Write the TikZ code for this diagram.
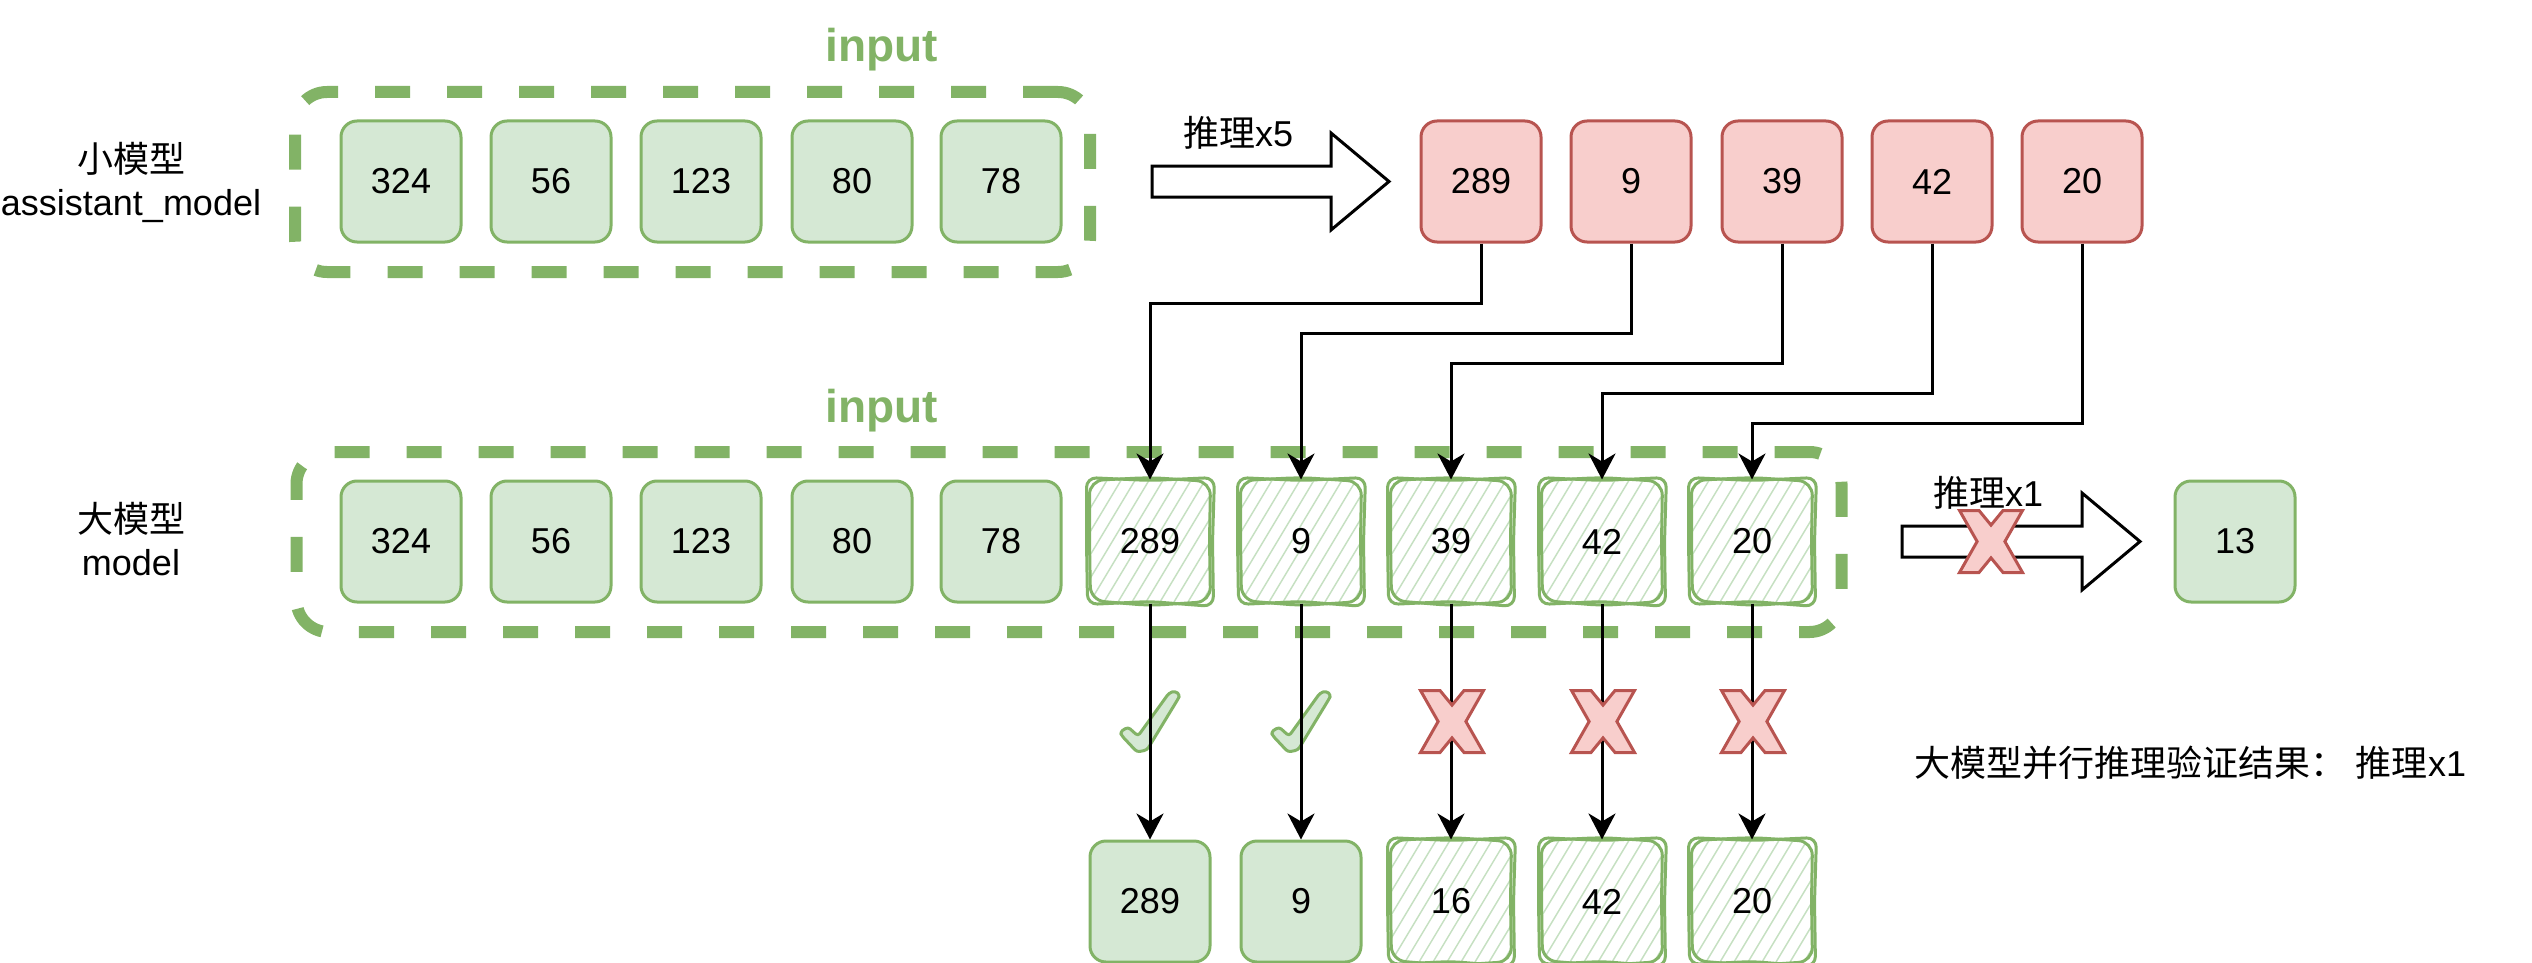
\documentclass[tikz,border=0pt]{standalone}
\usepackage{fontspec}
\setmainfont{Liberation Sans}
\newfontfamily\cjk{Noto Sans CJK SC}
\usetikzlibrary{arrows.meta}
\definecolor{gfill}{HTML}{D5E8D4}
\definecolor{gline}{HTML}{82B366}
\definecolor{rfill}{HTML}{F8CECC}
\definecolor{rline}{HTML}{B85450}
\definecolor{hatchc}{HTML}{C6E0C2}
\newcommand{\skout}[1]{%
\draw[skline,rounded corners=10pt] ([shift={(-2pt,2pt)}]#1.north west) -- ([shift={(0pt,-1pt)}]#1.north) -- ([shift={(3pt,2pt)}]#1.north east) -- ([shift={(1pt,0pt)}]#1.east) -- ([shift={(2pt,-3pt)}]#1.south east) -- ([shift={(0pt,2pt)}]#1.south) -- ([shift={(-1pt,-1pt)}]#1.south west) -- ([shift={(-2pt,0pt)}]#1.west) -- cycle;
\draw[skline,rounded corners=14pt] ([shift={(1pt,-1pt)}]#1.north west) -- ([shift={(0pt,2pt)}]#1.north) -- ([shift={(-1pt,-2pt)}]#1.north east) -- ([shift={(-2pt,0pt)}]#1.east) -- ([shift={(-1pt,2pt)}]#1.south east) -- ([shift={(0pt,-2pt)}]#1.south) -- ([shift={(2pt,3pt)}]#1.south west) -- ([shift={(1pt,0pt)}]#1.west) -- cycle;}
\tikzset{
 tok/.style={rectangle, rounded corners=16pt, minimum width=120pt, minimum height=121pt, inner sep=0pt, line width=3pt, font=\fontsize{36}{43}\selectfont},
 gtok/.style={tok, draw=gline, fill=gfill},
 rtok/.style={tok, draw=rline, fill=rfill},
 sktok/.style={tok, path picture={\foreach \k in {-84,-70,...,126}{\draw[hatchc,line width=1.5pt] ([xshift=\k pt]path picture bounding box.south west) -- ++(75pt,125pt);}}},
 skline/.style={draw=gline, line width=3pt, line join=round, line cap=round},
 cont/.style={rectangle, rounded corners=32pt, draw=gline, line width=12pt, dash pattern=on 35pt off 37pt, inner sep=0pt},
 conn/.style={line width=3pt, -{Stealth[length=26pt,width=27pt,inset=8pt]}},
 blockarrow/.style={draw=black, line width=3pt, fill=white, line join=miter},
 lbl/.style={font=\fontsize{36}{43}\selectfont, inner sep=0pt},
 inlbl/.style={font=\fontsize{46}{50}\selectfont\bfseries, text=gline, inner sep=0pt},
 xmark/.style={draw=rline, fill=rfill, line width=3pt, line join=miter},
 cmark/.style={draw=gline, fill=gfill, line width=3pt, line join=round, rounded corners=3pt},
 xpic/.pic={\draw[xmark] (-31.5,-31) -- (-12,-31) -- (0,-16.4) -- (12,-31) -- (31.5,-31) -- (13.9,0) -- (31.5,31) -- (12,31) -- (0,16.4) -- (-12,31) -- (-31.5,31) -- (-13.9,0) -- cycle;},
 cpic/.pic={\draw[cmark] (-30,10) -- (-22,5) -- (-12,14) -- (19,-29) -- (25,-31) -- (30,-27) -- (28,-23) -- (-3,28) -- (-13,30) -- (-28,14) -- cycle;},
}
\begin{document}
\begin{tikzpicture}[x=1pt,y=-1pt]
\useasboundingbox (0,0) rectangle (2532,963);
% containers
\node[cont, minimum width=795pt, minimum height=180pt] (cont1) at (692.5,182) {};
\node[cont, minimum width=1545pt, minimum height=180pt] (cont2) at (1069,542) {};
\node[inlbl, anchor=base] (in1) at (882,62) {input};
\node[inlbl, anchor=base] (in2) at (882,422) {input};
% left labels
\node[lbl, anchor=base] (l1a) at (131,172) {\cjk 小模型};
\node[lbl, anchor=base] (l1b) at (131,215) {assistant\_model};
\node[lbl, anchor=base] (l2a) at (131,532) {\cjk 大模型};
\node[lbl, anchor=base] (l2b) at (131,575) {model};
% row 1 inputs
\node[gtok] (a1) at (401,181.5) {324};
\node[gtok] (a2) at (551,181.5) {56};
\node[gtok] (a3) at (701,181.5) {123};
\node[gtok] (a4) at (852,181.5) {80};
\node[gtok] (a5) at (1001,181.5) {78};
% row 1 draft
\node[rtok] (r1) at (1481,181.5) {289};
\node[rtok] (r2) at (1631,181.5) {9};
\node[rtok] (r3) at (1782,181.5) {39};
\node[rtok] (r4) at (1932,181.5) {42};
\node[rtok] (r5) at (2082,181.5) {20};
% row 2
\node[gtok] (b1) at (401,541.5) {324};
\node[gtok] (b2) at (551,541.5) {56};
\node[gtok] (b3) at (701,541.5) {123};
\node[gtok] (b4) at (852,541.5) {80};
\node[gtok] (b5) at (1001,541.5) {78};
\node[sktok] (s1) at (1150,541.5) {289};
\node[sktok] (s2) at (1301,541.5) {9};
\node[sktok] (s3) at (1451,541.5) {39};
\node[sktok] (s4) at (1602,541.5) {42};
\node[sktok] (s5) at (1752,541.5) {20};
\skout{s1}\skout{s2}\skout{s3}\skout{s4}\skout{s5}
\node[gtok] (res) at (2235,541.5) {13};
% row 3
\node[gtok] (c1) at (1150,901.5) {289};
\node[gtok] (c2) at (1301,901.5) {9};
\node[sktok] (c3) at (1451,901.5) {16};
\node[sktok] (c4) at (1602,901.5) {42};
\node[sktok] (c5) at (1752,901.5) {20};
\skout{c3}\skout{c4}\skout{c5}
% connectors row1 -> row2
\draw[conn] (r1.south) -- ++(0,59.5) -| (s1.north);
\draw[conn] (r2.south) -- ++(0,89.5) -| (s2.north);
\draw[conn] (r3.south) -- ++(0,119.5) -| (s3.north);
\draw[conn] (r4.south) -- ++(0,149.5) -| (s4.north);
\draw[conn] (r5.south) -- ++(0,179.5) -| (s5.north);
% checks
\pic (ck1) at (1150,722) {cpic};
\pic (ck2) at (1301,722) {cpic};
% connectors row2 -> row3
\draw[conn] (s1.south) -- (c1.north);
\draw[conn] (s2.south) -- (c2.north);
\draw[conn] (s3.south) -- (c3.north);
\draw[conn] (s4.south) -- (c4.north);
\draw[conn] (s5.south) -- (c5.north);
\pic (xm3) at (1452,721.5) {xpic};
\pic (xm4) at (1603,721.5) {xpic};
\pic (xm5) at (1753,721.5) {xpic};
% block arrows
\draw[blockarrow] (1152,166) -- (1331,166) -- (1331,133) -- (1389,181.5) -- (1331,230) -- (1331,197) -- (1152,197) -- cycle;
\node[lbl] (t5) at (1238,133) {{\cjk 推理}x5};
\draw[blockarrow] (1902,526) -- (2082,526) -- (2082,493) -- (2140,541.5) -- (2082,590) -- (2082,557) -- (1902,557) -- cycle;
\node[lbl] (t1) at (1988,493) {{\cjk 推理}x1};
\pic (xa) at (1991,541.5) {xpic};
% result text
\node[lbl] (sum) at (2190,763) {{\cjk 大模型并行推理验证结果：}\ {\cjk 推理}x1};
\end{tikzpicture}
\end{document}
